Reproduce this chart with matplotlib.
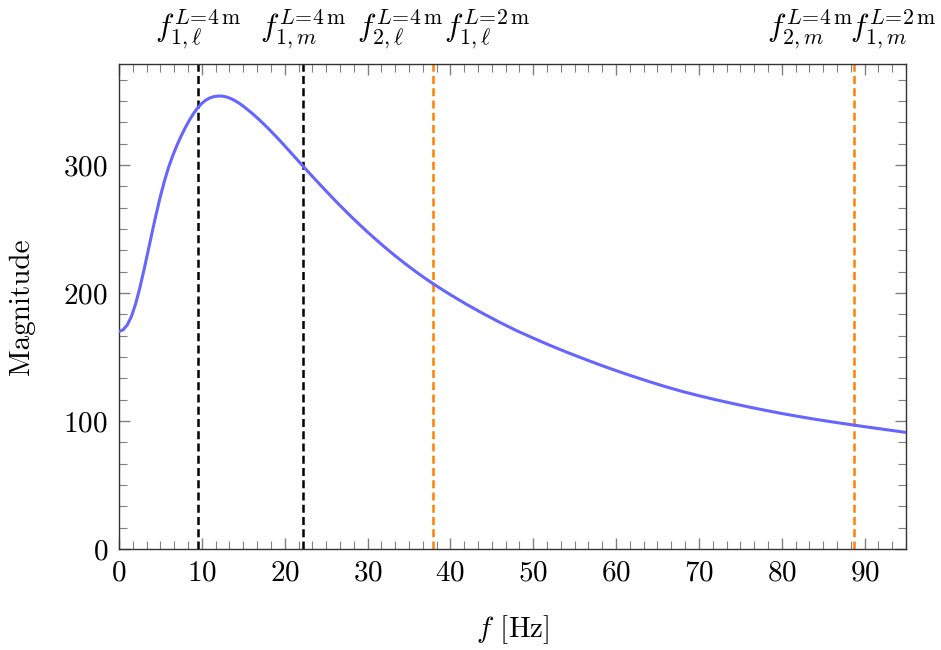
import matplotlib
matplotlib.use("Agg")
import matplotlib.pyplot as plt
import matplotlib.transforms as mtransforms
from matplotlib.ticker import MultipleLocator, AutoMinorLocator

plt.rcParams["font.family"] = "serif"
plt.rcParams["font.serif"] = ["cmr10"]
plt.rcParams["mathtext.fontset"] = "cm"
plt.rcParams["axes.formatter.use_mathtext"] = True

# magnitude response
freq = [0, 0.5, 1, 1.5, 2, 2.5, 3, 3.5, 4, 4.5, 5, 5.5, 6, 6.5, 7, 7.5, 8, 8.5,
        9, 9.5, 10, 10.5, 11, 11.5, 12, 12.5, 13, 13.5, 14, 14.5, 15, 16, 17,
        18, 19, 20, 21, 22, 23, 24, 25, 26, 27, 28, 29, 30, 31, 32, 33, 34,
        35, 36, 37, 38, 40, 42, 44, 46, 48, 50, 52, 54, 56, 58, 60, 62, 64,
        66, 68, 70, 72, 74, 76, 78, 80, 82, 84, 86, 88, 90, 92, 95]
magnitude = [170, 171.3, 175.2, 181.8, 191.5, 203.8, 217.8, 232.6, 247.6, 262.2,
             275.8, 288, 298.6, 307.6, 315.6, 322.8, 329.3, 335.2, 340.4, 344.8,
             348.3, 350.9, 352.6, 353.6, 354, 353.9, 353.2, 352.0, 350.35,
             348.35, 346.05, 340.85, 335.05, 328.75, 322.05, 315.05, 307.9,
             300.7, 293.6, 286.6, 279.7, 272.9, 266.3, 259.9, 253.7, 247.7,
             241.9, 236.3, 230.9, 225.7, 220.7, 215.9, 211.3, 206.9, 198.7,
             191.0, 183.8, 177.0, 170.6, 164.8, 159.2, 153.9, 148.9, 144.0,
             139.4, 135.0, 130.8, 126.8, 123.1, 119.8, 116.7, 113.8, 111.0,
             108.4, 105.9, 103.6, 101.4, 99.4, 97.5, 95.6, 93.8, 91.1]

# eigenfrequencies of the two plate lengths
f_black = [9.5, 22.2]
f_orange = [37.9, 88.7]

top_labels = [r"$f_{1,\ell}^{L\!=\!4\,\mathrm{m}}$", r"$f_{1,m}^{L\!=\!4\,\mathrm{m}}$",
              r"$f_{2,\ell}^{L\!=\!4\,\mathrm{m}}$", r"$f_{1,\ell}^{L\!=\!2\,\mathrm{m}}$",
              r"$f_{2,m}^{L\!=\!4\,\mathrm{m}}$", r"$f_{1,m}^{L\!=\!2\,\mathrm{m}}$"]
top_label_x = [9.5, 22.2, 33.95, 44.4, 83.4, 93.4]

fig = plt.figure(figsize=(9.41, 6.5), dpi=100)
ax = fig.add_axes([0.1265, 0.1554, 0.8363, 0.7461])

ax.plot(freq, magnitude, color=(0.4, 0.4, 1.0), lw=2.2, zorder=3)
for xv in f_black:
    ax.axvline(xv, color="black", lw=1.8, dashes=(3.2, 1.7), zorder=2)
for xv in f_orange:
    ax.axvline(xv, color=(1.0, 0.5, 0.0), lw=1.8, dashes=(3.2, 1.7), zorder=2)

ax.set_xlim(0, 95)
ax.set_ylim(0, 379)
ax.xaxis.set_major_locator(MultipleLocator(10))
ax.yaxis.set_major_locator(MultipleLocator(100))
ax.xaxis.set_minor_locator(AutoMinorLocator(6))
ax.yaxis.set_minor_locator(AutoMinorLocator(6))
ax.tick_params(which="both", direction="in", top=True, right=True,
               color=(0.5, 0.5, 0.5), labelsize=21, pad=8)
ax.tick_params(which="major", length=8, width=1.0)
ax.tick_params(which="minor", length=5.5, width=0.8)
for sp in ax.spines.values():
    sp.set_linewidth(1.0)
    sp.set_color((0.2, 0.2, 0.2))

ax.set_xlabel(r"$f$ [Hz]", fontsize=21)
ax.set_ylabel("Magnitude", fontsize=21)
ax.xaxis.set_label_coords(0.5, -0.132)
ax.yaxis.set_label_coords(-0.107, 0.5)

trans = mtransforms.blended_transform_factory(ax.transData, ax.transAxes)
for lx, lab in zip(top_label_x, top_labels):
    ax.text(lx, 1.026, lab, transform=trans, ha="center", va="bottom",
            fontsize=22.5, clip_on=False)

fig.savefig("out.png", dpi=100)
